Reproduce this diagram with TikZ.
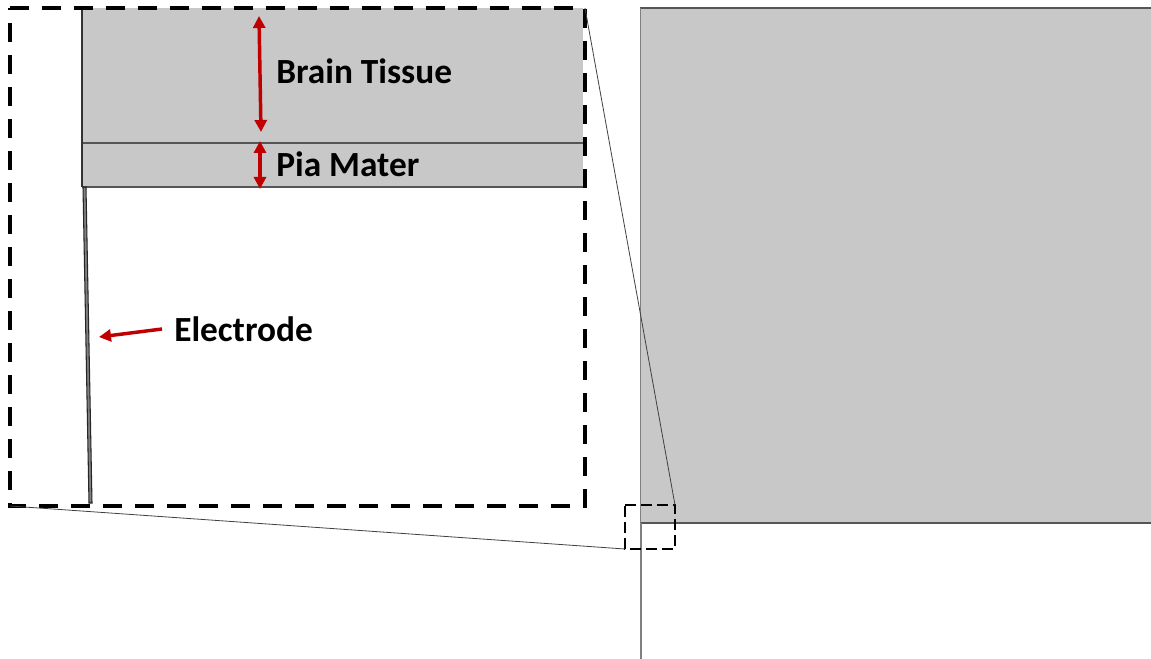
\documentclass[tikz,border=0pt]{standalone}
\usepackage{fontspec}
\setmainfont{Carlito}
\usetikzlibrary{arrows.meta}
\definecolor{tissue}{HTML}{C8C8C8}
\definecolor{edge}{HTML}{555555}
\definecolor{darkred}{HTML}{C00000}
\tikzset{
  layerline/.style={draw=edge, line width=1pt},
  zoombox/.style={draw=black, line width=3pt, dash pattern=on 14pt off 10pt},
  smallbox/.style={draw=black, line width=2.2pt, dash pattern=on 8pt off 4pt},
  guide/.style={draw=black!75, line width=0.6pt},
  measure/.style={draw=darkred, line width=2.6pt,
    {Triangle[length=9pt,width=9pt]}-{Triangle[length=9pt,width=9pt]}},
  pointer/.style={draw=darkred, line width=2.6pt, -{Triangle[length=9pt,width=9pt]}},
  label/.style={font=\bfseries\fontsize{26.5}{30}\selectfont, anchor=west, inner sep=0pt}
}
\begin{document}
\begin{tikzpicture}[x=0.75pt,y=-0.75pt]
\useasboundingbox (0,0) rectangle (1151,659);

% overview: tissue block and electrode shaft
\fill[tissue] (640,8) rectangle (1151,523);
\draw[edge, line width=0.8pt] (640,8) -- (1151,8);
\draw[edge, line width=1.2pt] (640,523) -- (1151,523);
\draw[draw=black!50, line width=1.2pt] (640.5,8) -- (640.5,523);
\draw[draw=black!50, line width=1.5pt] (641,523) -- (641,659);

% magnified view: brain tissue and pia mater layers
\fill[tissue] (82,8) rectangle (583,187);
\draw[layerline] (82,143) -- (583,143);
\draw[layerline] (82,187) -- (583,187);
\draw[black!80, line width=1.5pt] (82,8) -- (82,187);

% electrode in the magnified view
\filldraw[fill=black!50, draw=black!85, line width=0.8pt]
  (83,187) -- (86,187) -- (92,503) -- (89,503) -- cycle;

% zoom frames
\coordinate (bigTL) at (10,8);
\coordinate (bigTR) at (585,8);
\coordinate (bigBR) at (585,506);
\coordinate (bigBL) at (10,506);
\coordinate (smTL) at (625,505);
\coordinate (smTR) at (675,505);
\coordinate (smBR) at (675,549);
\coordinate (smBL) at (625,549);
\draw[zoombox] (bigTL) -- (bigTR) -- (bigBR) -- (bigBL) -- cycle;
\draw[smallbox] (smTL) -- (smTR) -- (smBR) -- (smBL) -- cycle;
\draw[guide] (bigTR) -- (smTR);
\draw[guide] (bigBL) -- (smBL);

% labels
\node[label] (brain) at (276,71) {Brain Tissue};
\node[label] (pia) at (276,164) {Pia Mater};
\node[label] (elec) at (174,329) {Electrode};

% dimension arrows
\coordinate (btTop) at (259,16);
\coordinate (btBot) at (261,132);
\coordinate (pmTop) at (260,141);
\coordinate (pmBot) at (260,189);
\draw[measure] (btTop) -- (btBot);
\draw[measure] (pmTop) -- (pmBot);
\coordinate (eStart) at (162,329);
\coordinate (eEnd) at (99,337);
\draw[pointer] (eStart) -- (eEnd);
\end{tikzpicture}
\end{document}
